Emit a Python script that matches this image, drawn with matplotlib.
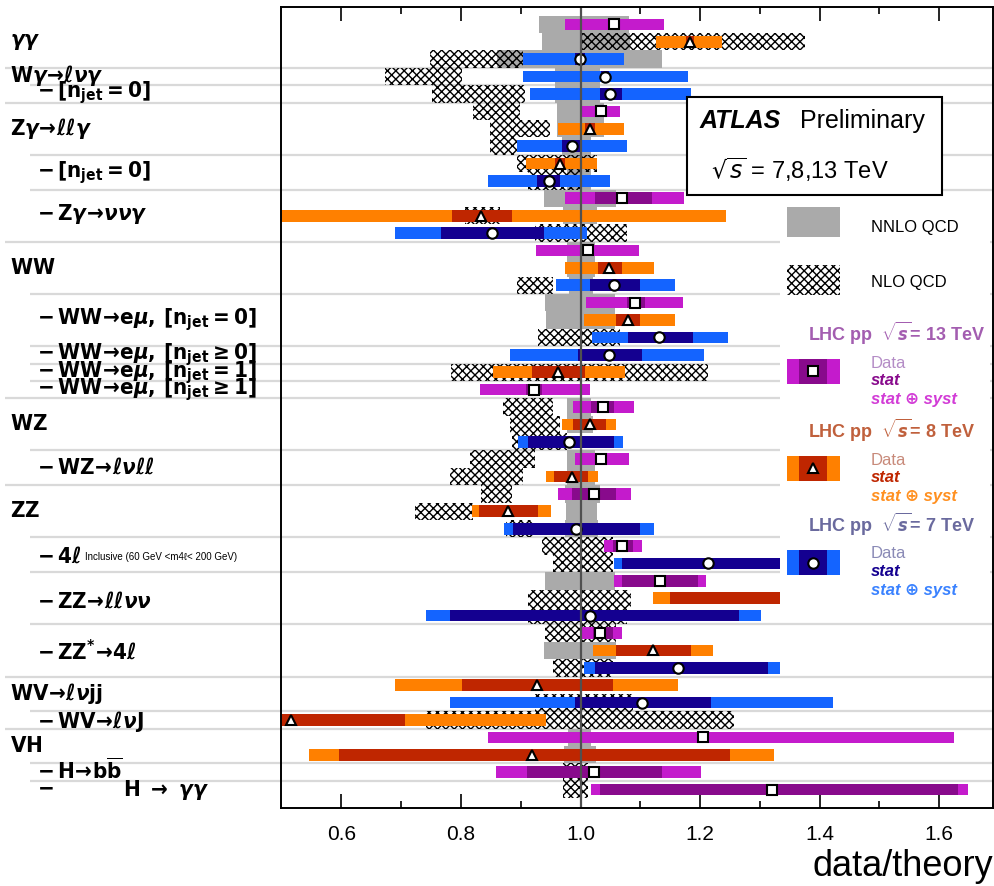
import matplotlib
matplotlib.use('Agg')
import matplotlib.pyplot as plt
from matplotlib.patches import Rectangle
from matplotlib.lines import Line2D
import matplotlib.transforms as mtransforms

plt.rcParams['mathtext.fontset'] = 'custom'
plt.rcParams['mathtext.rm'] = 'DejaVu Sans:weight=bold:stretch=condensed'
plt.rcParams['mathtext.bf'] = 'DejaVu Sans:weight=bold:stretch=condensed'
plt.rcParams['mathtext.sf'] = 'DejaVu Sans:weight=bold:stretch=condensed'
plt.rcParams['mathtext.it'] = 'DejaVu Sans:style=italic:weight=bold:stretch=condensed'
plt.rcParams['hatch.linewidth'] = 1.0

# ---------------- data (one entry per row, top to bottom) ----------------
row_energy = [13, 8, 7, 7, 7, 13, 8, 7, 8, 7, 13, 8, 7, 13, 8, 7, 13, 8, 7, 7, 8, 13,
              13, 8, 7, 13, 8, 13, 8, 7, 13, 7, 13, 8, 7, 13, 8, 7, 8, 7, 8, 13, 8, 13, 13]
row_value = [1.056, 1.183, 0.999, 1.041, 1.050, 1.035, 1.016, 0.986, 0.965, 0.947, 1.070,
             0.833, 0.852, 1.012, 1.048, 1.056, 1.091, 1.080, 1.132, 1.048, 0.963, 0.922,
             1.038, 1.015, 0.981, 1.035, 0.985, 1.022, 0.879, 0.993, 1.070, 1.214, 1.133,
             1.400, 1.015, 1.032, 1.122, 1.163, 0.927, 1.102, 0.515, 1.204, 0.918, 1.022, 1.321]
row_stat_lo = [1.046, 1.177, 0.990, 1.034, 1.032, 1.030, 1.007, 0.969, 0.957, 0.927, 1.024,
               0.785, 0.767, 1.005, 1.030, 1.016, 1.077, 1.059, 1.080, 0.996, 0.919, 0.909,
               1.018, 0.988, 0.912, 1.030, 0.956, 0.985, 0.830, 0.887, 1.054, 1.069, 1.069,
               1.150, 0.782, 1.021, 1.059, 1.024, 0.801, 0.991, 0.320, 1.204, 0.596, 0.911, 1.032]
row_stat_hi = [1.066, 1.190, 1.008, 1.048, 1.069, 1.040, 1.024, 1.003, 0.974, 0.965, 1.119,
               0.885, 0.938, 1.020, 1.069, 1.100, 1.108, 1.099, 1.188, 1.102, 1.007, 0.935,
               1.056, 1.042, 1.056, 1.040, 1.013, 1.060, 0.929, 1.100, 1.088, 1.359, 1.197,
               1.650, 1.265, 1.055, 1.184, 1.313, 1.054, 1.218, 0.706, 1.204, 1.250, 1.137, 1.631]
row_tot_lo = [0.974, 1.126, 0.903, 0.903, 0.916, 1.003, 0.962, 0.893, 0.909, 0.845, 0.974,
              0.422, 0.690, 0.926, 0.974, 0.959, 1.009, 1.006, 1.019, 0.882, 0.853, 0.832,
              0.988, 0.969, 0.896, 0.991, 0.943, 0.962, 0.819, 0.872, 1.040, 1.056, 1.056,
              1.122, 0.741, 1.000, 1.021, 1.006, 0.690, 0.782, 0.090, 0.845, 0.546, 0.859, 1.018]
row_tot_hi = [1.139, 1.236, 1.073, 1.179, 1.184, 1.066, 1.073, 1.078, 1.027, 1.050, 1.173,
              1.244, 1.010, 1.098, 1.123, 1.158, 1.171, 1.158, 1.247, 1.206, 1.075, 1.016,
              1.089, 1.060, 1.071, 1.081, 1.030, 1.084, 0.950, 1.123, 1.102, 1.376, 1.210,
              1.680, 1.302, 1.069, 1.221, 1.334, 1.163, 1.423, 0.943, 1.625, 1.323, 1.202, 1.649]

# theory bands: NNLO (grey) and NLO (hatched), row index, low, high
nnlo_rows = [0, 1, 2, 3, 4, 5, 6, 7, 8, 9, 10, 11, 13, 14, 15, 16, 17, 22, 23, 25, 26,
             27, 28, 29, 32, 36, 41, 42]
nnlo_lo = [0.930, 0.935, 0.861, 0.957, 0.957, 0.960, 0.960, 0.969, 0.977, 0.977, 0.938,
           0.971, 0.977, 0.977, 0.980, 0.940, 0.943, 0.977, 0.977, 0.977, 0.977, 0.974,
           0.975, 0.974, 0.940, 0.938, 0.979, 0.972]
nnlo_hi = [1.081, 1.083, 1.137, 1.032, 1.032, 1.040, 1.040, 1.018, 1.018, 1.018, 1.060,
           1.027, 1.024, 1.024, 1.020, 1.057, 1.057, 1.018, 1.020, 1.024, 1.024, 1.032,
           1.028, 1.030, 1.057, 1.060, 1.018, 1.026]
nlo_rows = [1, 2, 3, 4, 5, 6, 7, 8, 9, 11, 12, 15, 18, 20, 22, 23, 24, 25, 26, 27, 28,
            29, 30, 31, 33, 34, 35, 37, 39, 40, 43, 44]
nlo_lo = [1.000, 0.748, 0.673, 0.751, 0.820, 0.848, 0.848, 0.893, 0.912, 0.806, 0.924,
          0.893, 0.929, 0.784, 0.871, 0.882, 0.885, 0.815, 0.781, 0.834, 0.723, 0.876,
          0.935, 0.954, 0.912, 0.912, 0.940, 0.954, 0.924, 0.742, 0.971, 0.971]
nlo_hi = [1.375, 0.904, 0.801, 0.907, 0.898, 0.949, 0.893, 1.027, 1.002, 0.865, 1.077,
          0.954, 1.066, 1.213, 0.954, 0.965, 0.977, 0.924, 0.904, 0.885, 0.820, 0.921,
          1.055, 1.055, 1.085, 1.077, 1.060, 1.055, 1.088, 1.257, 1.013, 1.013]

# process labels: text, row position, indent (0 = main, 1 = sub)
label_text = [r'$\gamma\gamma$',
              r'$\mathrm{W}\gamma\!\rightarrow\!\ell\nu\gamma$',
              r'$-\,[\mathrm{n_{jet}}=0]$',
              r'$\mathrm{Z}\gamma\!\rightarrow\!\ell\ell\gamma$',
              r'$-\,[\mathrm{n_{jet}}=0]$',
              r'$-\,\mathrm{Z}\gamma\!\rightarrow\!\nu\nu\gamma$',
              r'$\mathrm{WW}$',
              r'$-\,\mathrm{WW}\!\rightarrow\!\mathrm{e}\mu,\,[\mathrm{n_{jet}}=0]$',
              r'$-\,\mathrm{WW}\!\rightarrow\!\mathrm{e}\mu,\,[\mathrm{n_{jet}}\geq0]$',
              r'$-\,\mathrm{WW}\!\rightarrow\!\mathrm{e}\mu,\,[\mathrm{n_{jet}}=1]$',
              r'$-\,\mathrm{WW}\!\rightarrow\!\mathrm{e}\mu,\,[\mathrm{n_{jet}}\geq1]$',
              r'$\mathrm{WZ}$',
              r'$-\,\mathrm{WZ}\!\rightarrow\!\ell\nu\ell\ell$',
              r'$\mathrm{ZZ}$',
              r'$-\,4\ell$',
              r'$-\,\mathrm{ZZ}\!\rightarrow\!\ell\ell\nu\nu$',
              r'$-\,\mathrm{ZZ^{*}}\!\rightarrow\!4\ell$',
              r'$\mathrm{WV}\!\rightarrow\!\ell\nu\mathrm{jj}$',
              r'$-\,\mathrm{WV}\!\rightarrow\!\ell\nu\mathrm{J}$',
              r'$\mathrm{VH}$',
              r'$-\,\mathrm{H}\!\rightarrow\!\mathrm{b}\overline{\mathrm{b}}$',
              r'$-$']
label_row = [1.0, 2.95, 3.95, 6.0, 8.55, 10.9, 14.0, 17.0, 19.0, 20.0, 21.0, 23.0, 25.5,
             28.0, 30.6, 33.2, 36.0, 38.5, 40.1, 41.5, 42.9, 43.9]
label_indent = [0, 0, 1, 0, 1, 1, 0, 1, 1, 1, 1, 0, 1, 0, 1, 1, 1, 0, 1, 0, 1, 1]

# separators between rows: position, full width (1) or indented (0)
sep_pos = [2.5, 3.5, 4.5, 7.5, 9.5, 12.5, 15.5, 18.5, 19.5, 20.5, 21.5, 24.5, 26.5,
           29.5, 31.5, 34.5, 37.5, 39.5, 40.5, 42.5, 43.5]
sep_full = [1, 0, 1, 0, 0, 1, 0, 0, 0, 0, 1, 0, 1, 0, 0, 0, 1, 0, 1, 0, 0]

xticks_major = [0.6, 0.8, 1.0, 1.2, 1.4, 1.6]
xticks_minor = [0.7, 0.9, 1.1, 1.3, 1.5]

# ---------------- styles ----------------
tot_col = {13: '#c41bcc', 8: '#ff8000', 7: '#1464ff'}
stat_col = {13: '#880a8c', 8: '#bf2600', 7: '#140090'}
mark = {13: 's', 8: '^', 7: 'o'}
msize = {13: 7.5, 8: 7.0, 7: 7.5}
GREY = '#aaaaaa'
HATCH = 'xxxx'
SANS = ['Liberation Sans', 'DejaVu Sans']

W, H = 994, 886
fig = plt.figure(figsize=(W / 100, H / 100), dpi=100)
ax = fig.add_axes([280.5 / W, 1 - 808 / H, (993 - 280.5) / W, (808 - 7) / H])
ax.set_xlim(0.498, 1.69)
ax.set_ylim(45.06, -1.0)

def fx(px):
    return px / W

def fy(py):
    return 1 - py / H

# separators
sep_tr = mtransforms.blended_transform_factory(ax.transAxes, ax.transData)
axw = 993 - 280.5
for p, f in zip(sep_pos, sep_full):
    x0 = (5 - 280.5) / axw if f else (30 - 280.5) / axw
    ax.plot([x0, 1.0], [p, p], color='#d9d9d9', lw=1.6, transform=sep_tr,
            clip_on=False, zorder=0.5, solid_capstyle='butt')

# theory bands
ax.barh(nnlo_rows, [h - l for l, h in zip(nnlo_lo, nnlo_hi)], left=nnlo_lo, height=1.0,
        color=GREY, linewidth=0, zorder=1)
ax.barh(nlo_rows, [h - l for l, h in zip(nlo_lo, nlo_hi)], left=nlo_lo, height=1.0,
        facecolor='none', edgecolor='black', hatch=HATCH, linewidth=0, zorder=2)

# data bars
rows = list(range(len(row_value)))
BH = 0.67
ax.barh(rows, [h - l for l, h in zip(row_tot_lo, row_tot_hi)], left=row_tot_lo, height=BH,
        color=[tot_col[e] for e in row_energy], linewidth=0, zorder=3)
ax.barh(rows, [h - l for l, h in zip(row_stat_lo, row_stat_hi)], left=row_stat_lo, height=BH,
        color=[stat_col[e] for e in row_energy], linewidth=0, zorder=4)
for e in (13, 8, 7):
    ys = [r for r in rows if row_energy[r] == e]
    xs = [row_value[r] for r in ys]
    ax.plot(xs, ys, ls='none', marker=mark[e], ms=msize[e], mfc='white', mec='black',
            mew=1.5, zorder=5)

ax.axvline(1.0, color='#505050', lw=1.6, zorder=6)

# axes styling
for s in ax.spines.values():
    s.set_linewidth(1.4)
    s.set_zorder(9)
ax.set_yticks([])
ax.set_xticks(xticks_major)
ax.set_xticks(xticks_minor, minor=True)
ax.set_xticklabels(['%.1f' % t for t in xticks_major])
ax.tick_params(axis='x', which='both', direction='in', top=True, bottom=True, width=1.2)
ax.tick_params(axis='x', which='major', length=10, pad=12, labelsize=15)
ax.tick_params(axis='x', which='minor', length=5)
for t in ax.get_xticklabels():
    t.set_family(SANS)

fig.text(fx(993), fy(866), 'data/theory', ha='right', va='center', fontsize=26,
         family=SANS)

# process labels
LFS = 16
lab_tr = mtransforms.blended_transform_factory(fig.transFigure, ax.transData)
for t, r, ind in zip(label_text, label_row, label_indent):
    ax.text(fx(37 if ind else 10), r, t, transform=lab_tr, ha='left', va='center',
            fontsize=LFS, clip_on=False)
ax.text(fx(85), 30.6, r'Inclusive (60 GeV <m4ℓ< 200 GeV)', transform=lab_tr, ha='left',
        va='center', fontsize=7, family=SANS)
ax.text(fx(123), 44.05, r'$\mathrm{H}\ \rightarrow\ \gamma\gamma$', transform=lab_tr,
        ha='left', va='center', fontsize=LFS)

# ATLAS box
fig.add_artist(Rectangle((fx(687), fy(195)), fx(942) - fx(687), fy(97) - fy(195),
                         transform=fig.transFigure, facecolor='white', edgecolor='black',
                         linewidth=1.5, zorder=10))
fig.text(fx(700), fy(121), 'ATLAS', fontsize=18, fontweight='bold', fontstyle='italic',
         family=SANS, va='center', zorder=11)
fig.text(fx(800), fy(121), 'Preliminary', fontsize=18, family=SANS, va='center', zorder=11)
fig.text(fx(711), fy(170), r'$\sqrt{s}$ = 7,8,13 TeV', fontsize=17, family=SANS,
         va='center', zorder=11, math_fontfamily='dejavusans')

# legend area
fig.add_artist(Rectangle((fx(780), fy(605)), fx(990) - fx(780), fy(197) - fy(605),
                         transform=fig.transFigure, facecolor='white', edgecolor='none',
                         zorder=10))
fig.add_artist(Rectangle((fx(787), fy(237)), fx(840) - fx(787), fy(207) - fy(237),
                         transform=fig.transFigure, facecolor=GREY, edgecolor='none',
                         zorder=11))
fig.text(fx(871), fy(227), 'NNLO QCD', fontsize=12, family=SANS, va='center', zorder=11)
fig.add_artist(Rectangle((fx(787), fy(295)), fx(840) - fx(787), fy(265) - fy(295),
                         transform=fig.transFigure, facecolor='none', edgecolor='black',
                         hatch=HATCH, linewidth=0, zorder=11))
fig.text(fx(871), fy(283), 'NLO QCD', fontsize=12, family=SANS, va='center', zorder=11)

leg_energy = [13, 8, 7]
leg_top = [333, 430, 524]
head_col = {13: '#a35db0', 8: '#c0603c', 7: '#6a6a9e'}
data_col = {13: '#b48cc6', 8: '#c88a7a', 7: '#8a8ab6'}
syst_col = {13: '#d23cd6', 8: '#ff9020', 7: '#3a82ff'}
for e, yt in zip(leg_energy, leg_top):
    fig.text(fx(808), fy(yt), r'LHC pp  $\sqrt{s}$= %d TeV' % e, fontsize=13,
             fontweight='bold', family=SANS, color=head_col[e], va='center', zorder=11)
    y0, y1 = yt + 26, yt + 51
    fig.add_artist(Rectangle((fx(787), fy(y1)), fx(840) - fx(787), fy(y0) - fy(y1),
                             transform=fig.transFigure, facecolor=tot_col[e],
                             edgecolor='none', zorder=11))
    fig.add_artist(Rectangle((fx(799), fy(y1)), fx(827) - fx(799), fy(y0) - fy(y1),
                             transform=fig.transFigure, facecolor=stat_col[e],
                             edgecolor='none', zorder=12))
    fig.add_artist(Line2D([fx(813)], [fy((y0 + y1) / 2)], transform=fig.transFigure,
                          marker=mark[e], ms=msize[e], mfc='white', mec='black', mew=1.5,
                          zorder=13))
    fig.text(fx(871), fy(yt + 30), 'Data', fontsize=12, family=SANS, color=data_col[e],
             va='center', zorder=11)
    fig.text(fx(871), fy(yt + 48), 'stat', fontsize=12, family=SANS, color=stat_col[e],
             fontweight='bold', fontstyle='italic', va='center', zorder=11)
    fig.text(fx(871), fy(yt + 66), 'stat ⊕ syst', fontsize=12, family=SANS,
             color=syst_col[e], fontweight='bold', fontstyle='italic', va='center',
             zorder=11)

fig.savefig('out.png', dpi=100)
